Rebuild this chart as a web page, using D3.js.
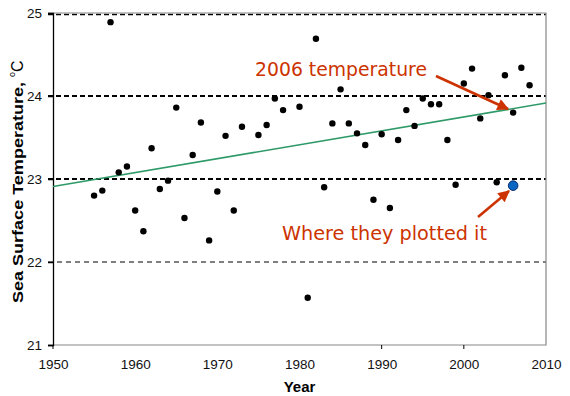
<!DOCTYPE html>
<html>
<head>
<meta charset="utf-8">
<script src="https://cdn.jsdelivr.net/npm/d3@7"></script>
<style>
  body { margin: 0; background: #fff; }
  svg { display: block; font-family: "Liberation Sans", Arial, sans-serif; }
  .note { font-family: "Comic Sans MS", "DejaVu Sans", sans-serif; fill: #cc3300; }
</style>
</head>
<body>
<svg id="chart" width="570" height="396"></svg>
<script>
// ________ data ________
const years = [1955, 1956, 1957, 1958, 1959, 1960, 1961, 1962, 1963, 1964,
  1965, 1966, 1967, 1968, 1969, 1970, 1971, 1972, 1973, 1975,
  1976, 1977, 1978, 1980, 1981, 1982, 1983, 1984, 1985, 1986,
  1987, 1988, 1989, 1990, 1991, 1992, 1993, 1994, 1995, 1996,
  1997, 1998, 1999, 2000, 2001, 2002, 2003, 2004, 2005, 2006,
  2007, 2008];
const temps = [22.80, 22.86, 24.89, 23.08, 23.15, 22.62, 22.37, 23.37, 22.88, 22.98,
  23.86, 22.53, 23.29, 23.68, 22.26, 22.85, 23.52, 22.62, 23.63, 23.53,
  23.65, 23.97, 23.83, 23.87, 21.57, 24.69, 22.90, 23.67, 24.08, 23.67,
  23.55, 23.41, 22.75, 23.54, 22.65, 23.47, 23.83, 23.64, 23.97, 23.90,
  23.90, 23.47, 22.93, 24.15, 24.33, 23.73, 24.01, 22.96, 24.25, 23.80,
  24.34, 24.13];
const trendYears = [1950, 2010];
const trendTemps = [22.91, 23.915];
const plotted = [{year: 2006, temp: 22.92}];
const xTicks = [1950, 1960, 1970, 1980, 1990, 2000, 2010];
const yTicks = [21, 22, 23, 24, 25];

const points = years.map((y, i) => ({year: y, temp: temps[i]}));
const trend = trendYears.map((y, i) => ({year: y, temp: trendTemps[i]}));

// ________ layout ________
const svg = d3.select('#chart');
const m = {left: 53, right: 546, top: 13, bottom: 345};
const x = d3.scaleLinear().domain([1950, 2010]).range([m.left, m.right]);
const y = d3.scaleLinear().domain([21, 25]).range([m.bottom, m.top]);

// grid lines
const gridStyle = {
  25: {w: 1.3, dash: '5,3'},
  24: {w: 2, dash: '5,3'},
  23: {w: 2, dash: '5,3'},
  22: {w: 1.2, dash: '5,4'}
};
svg.append('g').selectAll('line')
  .data(yTicks.filter(d => d > 21))
  .enter().append('line')
  .attr('x1', m.left - 5).attr('x2', m.right)
  .attr('y1', d => y(d) + (d === 25 ? 1.5 : 0))
  .attr('y2', d => y(d) + (d === 25 ? 1.5 : 0))
  .attr('stroke', '#000')
  .attr('stroke-width', d => gridStyle[d].w)
  .attr('stroke-dasharray', d => gridStyle[d].dash);

// frame: gray top/right/bottom
svg.append('path')
  .attr('d', `M${m.left},${m.top}H${m.right}V${m.bottom}H${m.left}`)
  .attr('fill', 'none')
  .attr('stroke', '#888')
  .attr('stroke-width', 1.2);

// x axis ticks + labels
const xAxis = svg.append('g')
  .attr('transform', `translate(0,${m.bottom})`)
  .call(d3.axisBottom(x).tickValues(xTicks).tickFormat(d3.format('d')).tickSize(0).tickPadding(14));
xAxis.select('.domain').remove();
xAxis.selectAll('text').attr('font-size', 13.5).attr('fill', '#111').attr('font-family', '"Liberation Sans", Arial, sans-serif');
svg.append('g').selectAll('line')
  .data([1950, 1990, 2000])
  .enter().append('line')
  .attr('x1', d => x(d)).attr('x2', d => x(d))
  .attr('y1', m.bottom).attr('y2', m.bottom + 4)
  .attr('stroke', '#000');

// y axis
const yAxis = svg.append('g')
  .attr('transform', `translate(${m.left},0)`)
  .call(d3.axisLeft(y).tickValues(yTicks).tickFormat(d3.format('d')).tickSize(5).tickPadding(6));
yAxis.select('.domain').attr('stroke', '#000').attr('stroke-width', 1.3);
yAxis.selectAll('.tick line').attr('stroke', '#000').attr('stroke-width', 1.5);
yAxis.selectAll('text').attr('font-size', 13.5).attr('fill', '#111').attr('font-family', '"Liberation Sans", Arial, sans-serif');

// axis titles
svg.append('text')
  .attr('x', (m.left + m.right) / 2).attr('y', 392)
  .attr('text-anchor', 'middle')
  .attr('font-size', 15).attr('font-weight', 'bold')
  .text('Year');

const yl = svg.append('text')
  .attr('transform', `translate(23,303) rotate(-90)`)
  .attr('text-anchor', 'start')
  .attr('font-size', 15.5).attr('font-weight', 'bold');
yl.append('tspan').text('Sea Surface Temperature, ')
  .attr('textLength', 226).attr('lengthAdjust', 'spacingAndGlyphs');
yl.append('tspan').text('o').attr('font-size', 9).attr('font-weight', 'normal').attr('dy', -8);
yl.append('tspan').text('C').attr('font-weight', 'normal').attr('font-size', 16).attr('dy', 8);

// trend line
svg.append('path')
  .datum(trend)
  .attr('d', d3.line().x(d => x(d.year)).y(d => y(d.temp)))
  .attr('stroke', '#2e9a68')
  .attr('stroke-width', 1.6)
  .attr('fill', 'none');

// data points
svg.append('g').selectAll('circle')
  .data(points)
  .enter().append('circle')
  .attr('cx', d => x(d.year))
  .attr('cy', d => y(d.temp))
  .attr('r', 3.2)
  .attr('fill', '#000');

svg.append('g').selectAll('circle')
  .data(plotted)
  .enter().append('circle')
  .attr('cx', d => x(d.year))
  .attr('cy', d => y(d.temp))
  .attr('r', 4.8)
  .attr('fill', '#0a66c2')
  .attr('stroke', '#0b2a6b')
  .attr('stroke-width', 1);

// annotations
svg.append('defs').append('marker')
  .attr('id', 'head')
  .attr('viewBox', '0 0 10 10')
  .attr('refX', 9).attr('refY', 5)
  .attr('markerWidth', 5).attr('markerHeight', 4.5)
  .attr('markerUnits', 'strokeWidth')
  .attr('orient', 'auto')
  .append('path').attr('d', 'M0,0L10,5L0,10z').attr('fill', '#cc3300');

svg.append('text').attr('class', 'note')
  .attr('x', 255).attr('y', 76)
  .attr('font-size', 19)
  .attr('textLength', 172).attr('lengthAdjust', 'spacingAndGlyphs')
  .text('2006 temperature');
svg.append('line')
  .attr('x1', 436).attr('y1', 76).attr('x2', 508).attr('y2', 109)
  .attr('stroke', '#cc3300').attr('stroke-width', 2.6)
  .attr('marker-end', 'url(#head)');

svg.append('text').attr('class', 'note')
  .attr('x', 282).attr('y', 240)
  .attr('font-size', 19)
  .attr('textLength', 205).attr('lengthAdjust', 'spacingAndGlyphs')
  .text('Where they plotted it');
svg.append('line')
  .attr('x1', 478).attr('y1', 217).attr('x2', 509).attr('y2', 191)
  .attr('stroke', '#cc3300').attr('stroke-width', 2.6)
  .attr('marker-end', 'url(#head)');
</script>
</body>
</html>
